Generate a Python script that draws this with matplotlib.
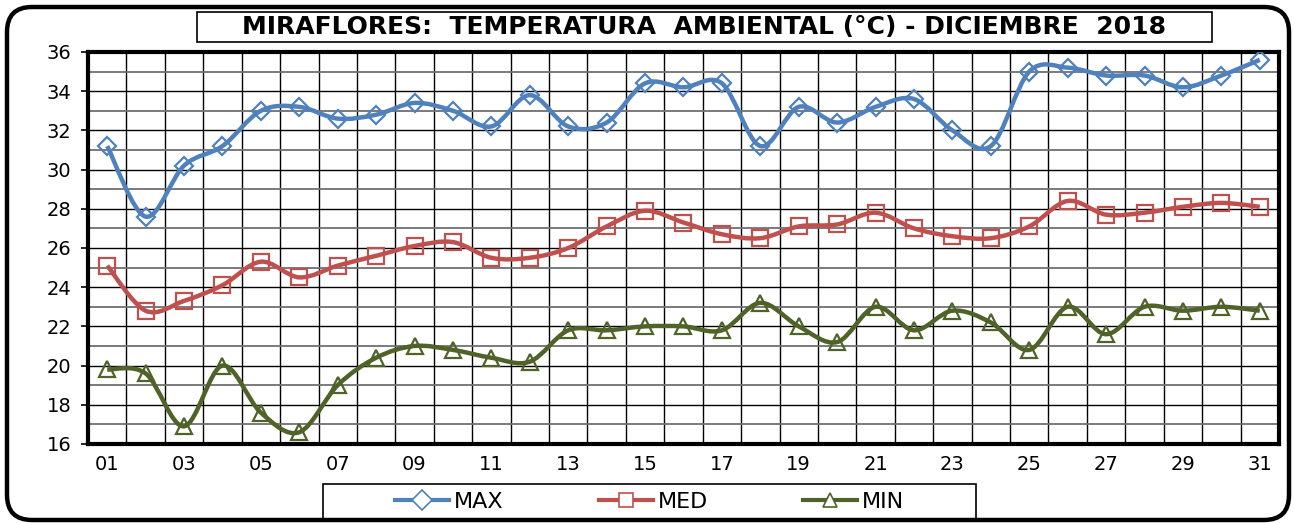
import numpy as np
import matplotlib.pyplot as plt
from matplotlib.path import Path
from matplotlib.patches import PathPatch, FancyBboxPatch, Rectangle
from matplotlib.lines import Line2D
from matplotlib.ticker import MultipleLocator

plt.rcParams['font.family'] = ['DejaVu Sans']

# Data (December 2018, Miraflores)
days = list(range(1, 32))
t_max = [31.2, 27.6, 30.2, 31.2, 33.0, 33.2, 32.6, 32.8, 33.4, 33.0, 32.2, 33.8, 32.2, 32.4, 34.4, 34.2,
         34.4, 31.2, 33.2, 32.4, 33.2, 33.6, 32.0, 31.2, 35.0, 35.2, 34.8, 34.8, 34.2, 34.8, 35.6]
t_med = [25.1, 22.8, 23.3, 24.1, 25.3, 24.5, 25.1, 25.6, 26.1, 26.3, 25.5, 25.5, 26.0, 27.1, 27.9, 27.3,
         26.7, 26.5, 27.1, 27.2, 27.8, 27.0, 26.6, 26.5, 27.1, 28.4, 27.7, 27.8, 28.1, 28.3, 28.1]
t_min = [19.8, 19.6, 16.9, 20.0, 17.6, 16.6, 19.0, 20.4, 21.0, 20.8, 20.4, 20.2, 21.8, 21.8, 22.0, 22.0,
         21.8, 23.2, 22.0, 21.2, 23.0, 21.8, 22.8, 22.2, 20.8, 23.0, 21.6, 23.0, 22.8, 23.0, 22.8]
labels = ['MAX', 'MED', 'MIN']
colors = ['#4F81BD', '#C0504D', '#4F6228']
markers = ['D', 's', '^']
tick_days = [f'{d:02d}' for d in days[::2]]


def smooth_path(x, y):
    # Excel style smoothed line: cubic Bezier segments through every point
    x = np.asarray(x, float)
    y = np.asarray(y, float)
    n = len(x)
    verts = [(x[0], y[0])]
    codes = [Path.MOVETO]
    for i in range(n - 1):
        p0 = (x[max(i - 1, 0)], y[max(i - 1, 0)])
        p3 = (x[min(i + 2, n - 1)], y[min(i + 2, n - 1)])
        c1 = (x[i] + (x[i + 1] - p0[0]) / 6, y[i] + (y[i + 1] - p0[1]) / 6)
        c2 = (x[i + 1] - (p3[0] - x[i]) / 6, y[i + 1] - (p3[1] - y[i]) / 6)
        verts += [c1, c2, (x[i + 1], y[i + 1])]
        codes += [Path.CURVE4] * 3
    return Path(verts, codes)


fig = plt.figure(figsize=(12.94, 5.23), dpi=100)
ax = fig.add_axes([0.068, 0.1511, 0.9204, 0.7495])

for vals, c, m in zip([t_max, t_med, t_min], colors, markers):
    ax.add_patch(PathPatch(smooth_path(days, vals), fc='none', ec=c, lw=3.2, zorder=3))
    ms = 9 if m == 'D' else 11
    ax.plot(days, vals, ls='none', marker=m, ms=ms, mfc='none', mec=c, mew=1.6, zorder=4)

ax.set_xlim(0.5, 31.5)
ax.set_ylim(16, 36)
ax.yaxis.set_major_locator(MultipleLocator(2))
ax.yaxis.set_minor_locator(MultipleLocator(1))
ax.set_xticks(days[::2])
ax.set_xticklabels(tick_days)
ax.set_xticks(np.arange(1.5, 31.5, 1), minor=True)
ax.grid(which='major', axis='y', color='black', lw=1.0, zorder=1)
ax.grid(which='minor', axis='y', color='#707070', lw=1.3, zorder=1)
ax.grid(which='minor', axis='x', color='black', lw=1.0, zorder=1)
ax.tick_params(axis='y', which='major', labelsize=14, length=5, width=1.2, pad=7)
ax.tick_params(axis='y', which='minor', length=0)
ax.tick_params(axis='x', which='both', length=0, labelsize=14, pad=8)
for s in ax.spines.values():
    s.set_linewidth(3)
    s.set_color('black')

# Title box
fig.patches.append(Rectangle((197 / 1294, 1 - 42 / 523), 1015 / 1294, 30 / 523,
                             transform=fig.transFigure, fc='white', ec='black', lw=1.2))
fig.text(0.5444, 0.949, 'MIRAFLORES:  TEMPERATURA  AMBIENTAL (°C) - DICIEMBRE  2018',
         ha='center', va='center', fontsize=18, fontweight='bold')

# Legend
fig.patches.append(Rectangle((323 / 1294, 1 - 519 / 523), 653 / 1294, 35 / 523,
                             transform=fig.transFigure, fc='white', ec='black', lw=1.2))
handles = [Line2D([], [], color=c, lw=3, marker=m, ms=10, mfc='white', mec=c, mew=1.2)
           for c, m in zip(colors, markers)]
fig.legend(handles, labels, loc='center', bbox_to_anchor=(0.502, 0.040), ncol=3,
           fontsize=16, frameon=False, handlelength=2.43, handletextpad=0.22,
           columnspacing=4.3, borderpad=0.3)

# Outer rounded border (display pixels)
fig.patches.append(FancyBboxPatch((7, 3), 1282, 513, transform=None,
                                  boxstyle='round,pad=0,rounding_size=25', fc='none',
                                  ec='black', lw=3.2))

fig.savefig('out.png', dpi=100)
